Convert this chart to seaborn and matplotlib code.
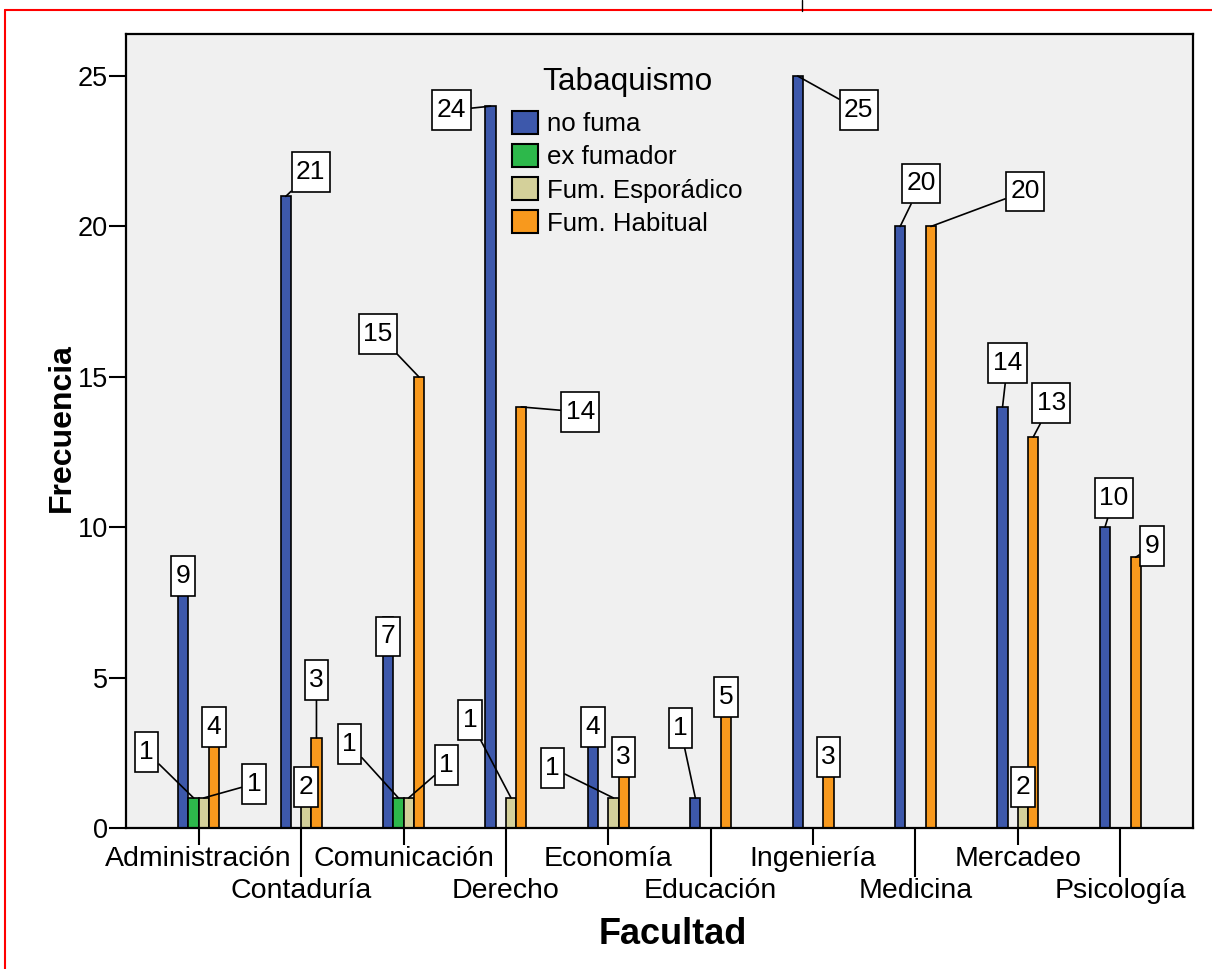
import matplotlib
matplotlib.use("Agg")
import matplotlib.pyplot as plt
from matplotlib.lines import Line2D
from matplotlib.patches import Patch
from matplotlib.path import Path
import pandas as pd
import seaborn as sns

# Frequency of smoking habit by faculty
facultades = ["Administración", "Contaduría", "Comunicación", "Derecho", "Economía",
              "Educación", "Ingeniería", "Medicina", "Mercadeo", "Psicología"]
categorias = ["no fuma", "ex fumador", "Fum. Esporádico", "Fum. Habitual"]
no_fuma = [9, 21, 7, 24, 4, 1, 25, 20, 14, 10]
ex_fumador = [1, 0, 1, 0, 0, 0, 0, 0, 0, 0]
fum_esporadico = [1, 2, 1, 1, 1, 0, 0, 0, 2, 0]
fum_habitual = [4, 3, 15, 14, 3, 5, 3, 20, 13, 9]

colores = ["#3D58AB", "#2DB84B", "#D4D09A", "#F8991D"]

# Placement of each value box relative to the top of its bar (pixels, y up)
DENTRO = (0, -19)
posiciones_etiquetas = {
    (0, 0): DENTRO, (0, 1): (-47, 46), (0, 2): (50, 14), (0, 3): DENTRO,
    (1, 0): (25, 24), (1, 2): DENTRO, (1, 3): (0, 58),
    (2, 0): DENTRO, (2, 1): (-49, 54), (2, 2): (38, 33), (2, 3): (-41, 43),
    (3, 0): (-39, -4), (3, 2): (-41, 78), (3, 3): (59, -5),
    (4, 0): DENTRO, (4, 2): (-61, 30), (4, 3): DENTRO,
    (5, 0): (-15, 70), (5, 3): DENTRO,
    (6, 0): (61, -34), (6, 3): DENTRO,
    (7, 0): (21, 43), (7, 3): (94, 35),
    (8, 0): (5, 44), (8, 2): DENTRO, (8, 3): (18, 34),
    (9, 0): (9, 29), (9, 3): (16, 11),
}

series = [no_fuma, ex_fumador, fum_esporadico, fum_habitual]
filas = []
for cat, valores in zip(categorias, series):
    for fac, v in zip(facultades, valores):
        if v > 0:
            filas.append({"Facultad": fac, "Tabaquismo": cat, "Frecuencia": v})
df = pd.DataFrame(filas)

sns.set_style("white")
plt.rcParams["font.family"] = ["Liberation Sans", "DejaVu Sans"]
plt.rcParams["text.color"] = "black"
plt.rcParams["axes.labelcolor"] = "black"
plt.rcParams["xtick.color"] = "black"
plt.rcParams["ytick.color"] = "black"


def caja_etiqueta(x0, y0, width, height, mutation_size):
    """Rectangular box, taller than wide padding, around a value label."""
    px = 0.17 * mutation_size
    py = 0.30 * mutation_size
    x1, y1 = x0 + width + px, y0 + height + py
    xa, ya = x0 - px, y0 - py
    return Path([(xa, ya), (x1, ya), (x1, y1), (xa, y1), (xa, ya)], closed=True)


W, H = 1212, 969
fig = plt.figure(figsize=(W / 100, H / 100), dpi=100)
ax = fig.add_axes([126 / W, 1 - 828 / H, (1193 - 126) / W, (828 - 34) / H])
ax.set_facecolor("#F0F0F0")

sns.barplot(data=df, x="Facultad", y="Frecuencia", hue="Tabaquismo",
            order=facultades, hue_order=categorias, palette=colores,
            width=0.4, gap=0, saturation=1, edgecolor="black", linewidth=1.2,
            errorbar=None, legend=False, ax=ax)

ax.set_xlim(-0.71, 9.71)
ax.set_ylim(0, 26.4)
ax.set_yticks([0, 5, 10, 15, 20, 25])

# Value boxes with leader lines
ancho_hue = 0.4 / len(categorias)
for cont in ax.containers:
    for bar in cont:
        v = bar.get_height()
        if v <= 0:
            continue
        xc = bar.get_x() + bar.get_width() / 2
        i_cat = int(round(xc))
        i_hue = int(round((xc - i_cat) / ancho_hue + (len(categorias) - 1) / 2))
        dx, dy = posiciones_etiquetas.get((i_cat, i_hue), DENTRO)
        flecha = None
        if not (dx == 0 and dy < 0):
            flecha = dict(arrowstyle="-", color="black", lw=1.2, shrinkA=0, shrinkB=0)
        ax.annotate(f"{int(v)}", xy=(xc, v), xytext=(dx, dy), textcoords="offset pixels",
                    ha="center", va="center", fontsize=19, zorder=5, color="black",
                    bbox=dict(boxstyle=caja_etiqueta, fc="white", ec="black", lw=1.2),
                    arrowprops=flecha)

# Alternating two-row category labels
pares = list(range(0, len(facultades), 2))
impares = list(range(1, len(facultades), 2))
ax.set_xticks(pares, labels=[facultades[i] for i in pares])
ax.set_xticks(impares, labels=[facultades[i] for i in impares], minor=True)
ax.tick_params(axis="x", which="major", length=12.2, width=1.5, pad=1,
               labelsize=20.5, color="black", labelcolor="black", bottom=True)
ax.tick_params(axis="x", which="minor", length=35, width=1.5, pad=1,
               labelsize=20.5, color="black", labelcolor="black", bottom=True)
ax.tick_params(axis="y", length=12, width=1.5, pad=1, labelsize=19.5,
               color="black", labelcolor="black", left=True)
ax.set_xlabel("")
ax.set_ylabel("")

for s in ax.spines.values():
    s.set_color("black")
    s.set_linewidth(1.6)

fig.text(673 / W, 1 - 935 / H, "Facultad", ha="center", va="center",
         fontsize=26, fontweight="bold", color="black")
fig.text(62 / W, 1 - 428 / H, "Frecuencia", ha="center", va="center",
         rotation=90, fontsize=23, fontweight="bold", color="black")

# Legend
manejadores = [Patch(facecolor=c, edgecolor="black", linewidth=1.5) for c in colores]
leyenda = ax.legend(manejadores, categorias, title="Tabaquismo", loc="upper left",
                    bbox_to_anchor=(512 / W, 1 - 67 / H), bbox_transform=fig.transFigure,
                    frameon=False, fontsize=18.6, title_fontsize=22.7, handlelength=1.0,
                    handleheight=1.0, labelspacing=0.3, handletextpad=0.35, borderpad=0,
                    borderaxespad=0, labelcolor="black")
leyenda.get_title().set_color("black")
leyenda._legend_box.sep = 10

# Page frame
fig.add_artist(Line2D([5 / W, 5 / W], [0, 1 - 10 / H], transform=fig.transFigure,
                      color="red", lw=1.5))
fig.add_artist(Line2D([5 / W, 1], [1 - 10 / H, 1 - 10 / H], transform=fig.transFigure,
                      color="red", lw=1.5))
fig.add_artist(Line2D([802 / W, 802 / W], [1, 1 - 11 / H], transform=fig.transFigure,
                      color="black", lw=1))

fig.savefig("out.png", dpi=100)
